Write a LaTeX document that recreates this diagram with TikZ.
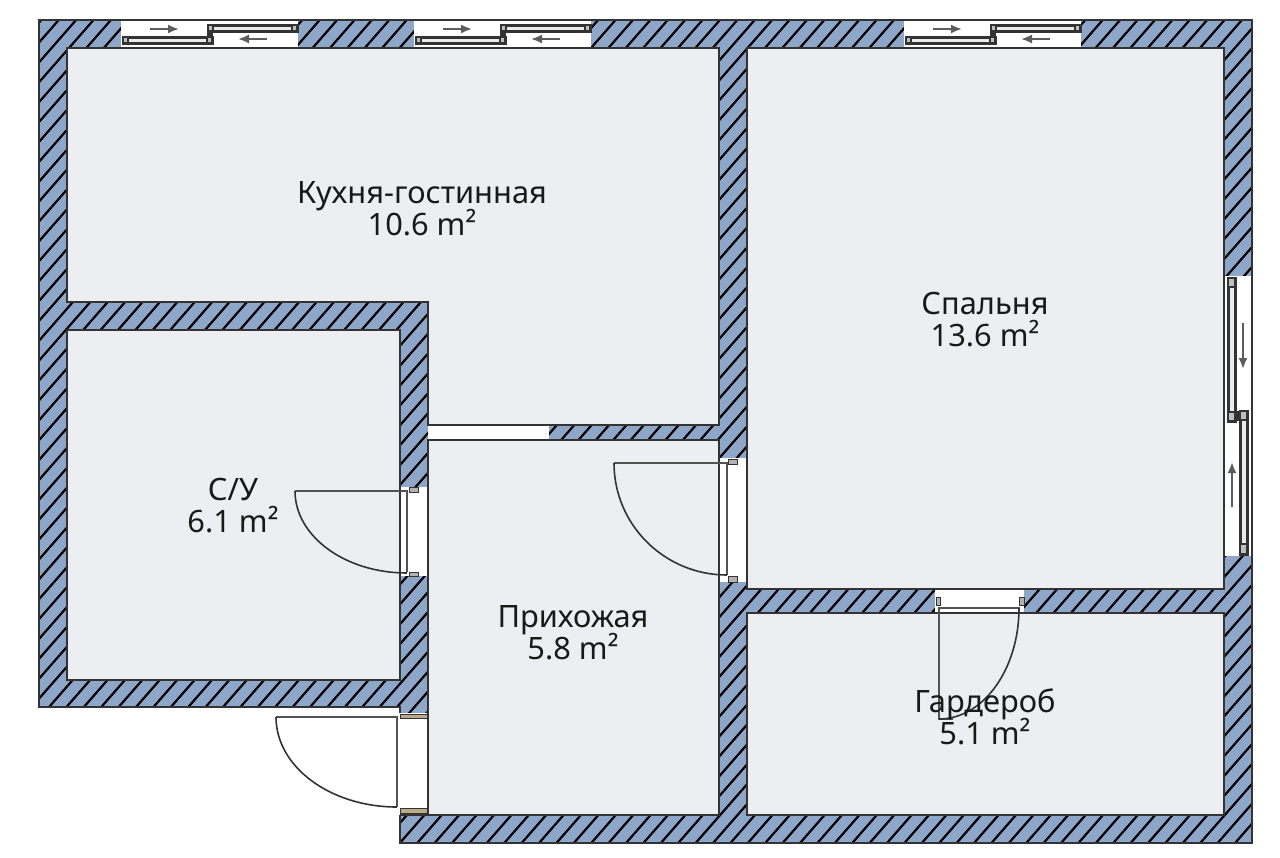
\documentclass[tikz,border=0pt]{standalone}
\usepackage{fontspec}
\usetikzlibrary{arrows.meta}
\setmainfont{Noto Sans}
\definecolor{wallblue}{HTML}{8EA7C9}
\definecolor{roomgrey}{HTML}{ECEEF2}
\definecolor{linedark}{HTML}{333333}
\definecolor{hingetan}{HTML}{BBAA88}
\tikzset{
  hatchline/.style={black, line width=2.2pt},
  wallline/.style={draw=linedark, line width=1.2pt},
  room/.style={fill=roomgrey, wallline},
  opening/.style={fill=white, draw=none},
  leaf/.style={draw=linedark!85, line width=1.3pt},
  swing/.style={draw=linedark, line width=1.6pt},
  hinge/.style={fill=black!30, draw=linedark, line width=1pt},
  sash/.style={fill=black!8, draw=linedark, line width=3pt},
  sashend/.style={fill=black!25, draw=linedark, line width=1.8pt},
  slide/.style={-{Latex[length=11pt,width=9pt]}, draw=linedark!80, fill=linedark!80, line width=2pt},
  roomlabel/.style={align=center, text=black!90, font={\fontsize{30.8}{32}\selectfont\lineskiplimit -20pt\relax}}
}
\begin{document}
\begin{tikzpicture}[x=1pt, y=-1pt]
    \useasboundingbox (0,0) rectangle (1280,857);
    \fill[white] (0,0) rectangle (1280,857);

    % walls
    \fill[wallblue] (39,20) -- (1252,20) -- (1252,843) -- (400,843) -- (400,707) -- (39,707) -- cycle;
    \begin{scope}
      \clip (39,20) -- (1252,20) -- (1252,843) -- (400,843) -- (400,707) -- (39,707) -- cycle;
      \foreach \n in {-40,...,116}
        \draw[hatchline] (-117+\n*17.4,857) -- (633+\n*17.4,0);
    \end{scope}
    \draw[wallline] (39,20) -- (1252,20) -- (1252,843) -- (400,843) -- (400,707) -- (39,707) -- cycle;

    % openings in the walls
    \fill[opening] (428,425) rectangle (549,440);
    \fill[opening] (399,487) rectangle (428,576);
    \fill[opening] (719,458) rectangle (747,582);
    \fill[opening] (935,589) rectangle (1024,613);
    \fill[opening] (399,713) rectangle (428,815);
    \fill[opening] (1224,276) rectangle (1253,556);
    \draw[wallline] (400,815) -- (428,815);
    \draw[wallline] (1252,276) -- (1252,556);

    % rooms
    \draw[room] (67,48) -- (719,48) -- (719,425) -- (428,425) -- (428,302) -- (67,302) -- cycle;
    \draw[room] (67,330) rectangle (400,680);
    \draw[room] (428,440) rectangle (719,815);
    \draw[room] (747,48) rectangle (1224,589);
    \draw[room] (747,613) rectangle (1224,815);

    % top windows
    \foreach \wx in {121,414,904} {
      \begin{scope}[shift={(\wx,0)}]
        \fill[opening] (0,20) rectangle (177,47);
        \draw[wallline] (0,20) -- (177,20);
        \fill[linedark] (86,30) rectangle (92,38);
        \draw[sash] (2,37) rectangle (91,43);
        \draw[sash] (87,25) rectangle (176,31);
        \draw[sashend] (2,37) rectangle (7,43);
        \draw[sashend] (86,37) rectangle (91,43);
        \draw[sashend] (87,25) rectangle (92,31);
        \draw[sashend] (171,25) rectangle (176,31);
        \draw[slide] (29,29) -- (58,29);
        \draw[slide] (146,39) -- (117,39);
      \end{scope}
    }

    % right window
    \fill[linedark] (1234,411) rectangle (1241,421);
    \draw[sash] (1228,278) rectangle (1235,421);
    \draw[sash] (1240,411) rectangle (1247,554);
    \draw[sashend] (1228,278) rectangle (1235,287);
    \draw[sashend] (1228,412) rectangle (1235,421);
    \draw[sashend] (1240,411) rectangle (1247,420);
    \draw[sashend] (1240,544) rectangle (1247,554);
    \draw[slide] (1243,323) -- (1243,369);
    \draw[slide] (1232,507) -- (1232,462);

    % bath door
    \draw[leaf] (295,491) -- (407,491) -- (407,572);
    \draw[swing] (295,491) arc[start angle=180, end angle=90, x radius=112, y radius=82];
    \draw[hinge] (409,487) rectangle (418,492);
    \draw[hinge] (409,572) rectangle (418,576);

    % bedroom door
    \draw[leaf] (614,463) -- (727,463) -- (727,575);
    \draw[swing] (614,463) arc[start angle=180, end angle=90, x radius=113, y radius=112];
    \draw[hinge] (728,459) rectangle (737,464);
    \draw[hinge] (728,576) rectangle (737,582);

    % entrance door
    \draw[leaf, line width=1.8pt] (276,717) -- (397,717) -- (397,807);
    \draw[swing] (276,717) arc[start angle=180, end angle=90, x radius=121, y radius=90];
    \draw[hinge, fill=hingetan] (400,714) rectangle (427,718);
    \draw[hinge, fill=hingetan] (400,808) rectangle (427,813);

    % wardrobe door
    \draw[leaf] (1020,608) -- (939,608) -- (939,719) -- (953,719);
    \draw[swing] (1019,608) arc[start angle=0, end angle=90, x radius=80, y radius=111];
    \draw[hinge] (936,597) rectangle (940,605);
    \draw[hinge] (1019,597) rectangle (1024,605);

    % room names
    \node[roomlabel] (kitchen) at (422,209) {Кухня-гостинная\\10.6 m²};
    \node[roomlabel] (bedroom) at (985,320) {Спальня\\13.6 m²};
    \node[roomlabel] (bath) at (233,506) {С/У\\6.1 m²};
    \node[roomlabel] (hall) at (573,633) {Прихожая\\5.8 m²};
    \node[roomlabel] (wardrobe) at (985,717) {Гардероб\\5.1 m²};
\end{tikzpicture}
\end{document}
